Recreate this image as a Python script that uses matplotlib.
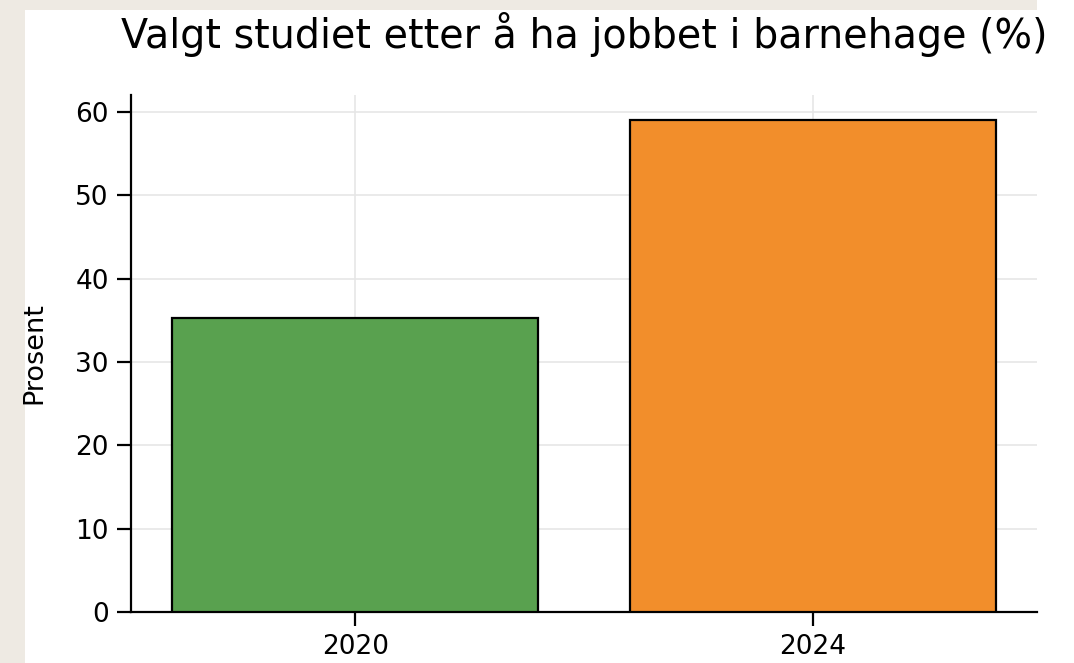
import matplotlib
matplotlib.use("Agg")
import matplotlib.pyplot as plt
from matplotlib.patches import Rectangle

years = ["2020", "2024"]
percent = [35.3, 59.1]
bar_colors = ["#59A14F", "#F28E2B"]

title = "Valgt studiet etter å ha jobbet i barnehage (%)"
ylabel = "Prosent"

fig = plt.figure(figsize=(10.74, 6.63), dpi=100, facecolor="white")

# beige frame from the page behind the figure
beige = "#EEEAE3"
fig.patches.append(Rectangle((0, 0), 25 / 1074, 1, transform=fig.transFigure,
                             facecolor=beige, edgecolor="none", zorder=-5))
fig.patches.append(Rectangle((0, 1 - 10 / 663), 1037 / 1074, 10 / 663,
                             transform=fig.transFigure, facecolor=beige,
                             edgecolor="none", zorder=-5))

ax = fig.add_axes([131 / 1074, 1 - 612 / 663, (1037 - 131) / 1074, (612 - 95) / 663])

ax.bar(years, percent, width=0.8, color=bar_colors, edgecolor="black",
       linewidth=1.6, zorder=3)

ax.set_title(title, fontsize=28.5, pad=34)
ax.set_ylabel(ylabel, fontsize=19.5, labelpad=20)
ax.tick_params(axis="both", labelsize=19, length=10, width=1.6, pad=6)
ax.set_yticks([0, 10, 20, 30, 40, 50, 60])

ax.grid(True, color="#e6e6e6", linewidth=1.2, zorder=0)
ax.set_axisbelow(True)
for s in ["top", "right"]:
    ax.spines[s].set_visible(False)
for s in ["left", "bottom"]:
    ax.spines[s].set_linewidth(1.6)

fig.savefig("out.png", dpi=100, facecolor="white")
